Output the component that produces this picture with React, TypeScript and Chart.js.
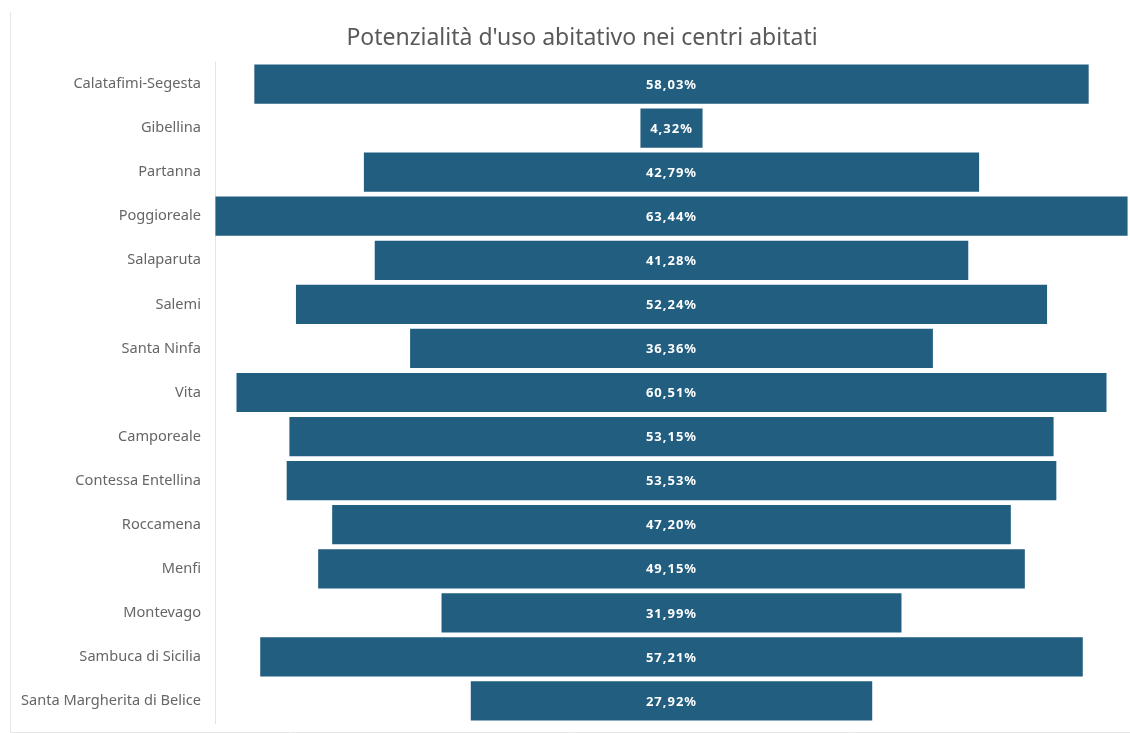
import React, { useEffect, useRef } from "react";
import { Chart, registerables } from "chart.js";

Chart.register(...registerables);

const categories = [
  "Calatafimi-Segesta",
  "Gibellina",
  "Partanna",
  "Poggioreale",
  "Salaparuta",
  "Salemi",
  "Santa Ninfa",
  "Vita",
  "Camporeale",
  "Contessa Entellina",
  "Roccamena",
  "Menfi",
  "Montevago",
  "Sambuca di Sicilia",
  "Santa Margherita di Belice",
];

const values = [58.03, 4.32, 42.79, 63.44, 41.28, 52.24, 36.36, 60.51, 53.15, 53.53, 47.2, 49.15, 31.99, 57.21, 27.92];

const titleText = "Potenzialità d'uso abitativo nei centri abitati";

const fmt = (v: number) => v.toFixed(2).replace(".", ",") + "%";

export default function App() {
  const ref = useRef<HTMLCanvasElement | null>(null);

  useEffect(() => {
    document.body.style.margin = "0";
    const canvas = ref.current!;
    const frame = {
      id: "frame",
      beforeDraw(chart: any) {
        const ctx = chart.ctx;
        ctx.save();
        ctx.fillStyle = "#ffffff";
        ctx.fillRect(0, 0, chart.width, chart.height);
        ctx.strokeStyle = "#e6e6e6";
        ctx.lineWidth = 1;
        ctx.beginPath();
        ctx.moveTo(10.5, 12);
        ctx.lineTo(10.5, 732.5);
        ctx.lineTo(chart.width, 732.5);
        ctx.stroke();
        ctx.restore();
      },
      afterDraw(chart: any) {
        const ctx = chart.ctx;
        ctx.save();
        ctx.fillStyle = "#595959";
        ctx.font = "23px 'Noto Sans', sans-serif";
        ctx.textAlign = "center";
        ctx.textBaseline = "middle";
        ctx.fillText(titleText, 582, 38);
        const meta = chart.getDatasetMeta(0);
        ctx.fillStyle = "#ffffff";
        ctx.font = "bold 13px 'Noto Sans', sans-serif";
        (ctx as any).letterSpacing = "1px";
        meta.data.forEach((el: any, i: number) => {
          const cx = (el.x + el.base) / 2;
          ctx.fillText(fmt(values[i]), cx, el.y + 1);
        });
        ctx.restore();
      },
    };
    const chart = new Chart(canvas, {
      type: "bar",
      data: {
        labels: categories,
        datasets: [
          {
            data: values.map((v) => [-v / 2, v / 2]) as any,
            backgroundColor: "#215e80",
            borderWidth: 0,
            barPercentage: 0.89,
            categoryPercentage: 1,
          },
        ],
      },
      options: {
        indexAxis: "y",
        animation: false,
        responsive: false,
        maintainAspectRatio: false,
        layout: { padding: { top: 62, bottom: 10, left: 0, right: 2 } },
        plugins: {
          legend: { display: false },
          title: { display: false },
          tooltip: { enabled: false },
        },
        scales: {
          x: {
            type: "linear",
            min: -31.75,
            max: 31.75,
            display: false,
          },
          y: {
            grid: { display: false, drawTicks: false },
            border: { display: true, color: "#e3e3e3", width: 1 },
            ticks: {
              color: "#666666",
              font: { family: "'Noto Sans', sans-serif", size: 14.6 },
              padding: 14,
            },
            afterFit(scale: any) {
              scale.width = 215;
              scale.paddingTop = 0;
              scale.paddingBottom = 0;
            },
          },
        },
      },
      plugins: [frame],
    });
    return () => chart.destroy();
  }, []);

  return (
    <div style={{ position: "absolute", left: 0, top: 0, width: 1130, height: 733 }}>
      <canvas ref={ref} width={1130} height={733} style={{ width: 1130, height: 733, display: "block" }} />
    </div>
  );
}
